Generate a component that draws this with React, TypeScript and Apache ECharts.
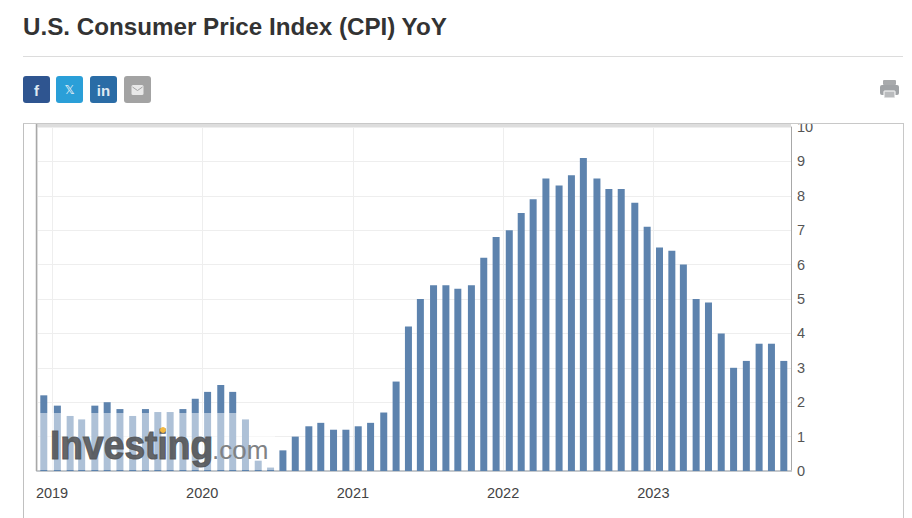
import React, { useEffect, useRef } from "react";
import * as echarts from "echarts";

const barDates = [
  "2018-12-12","2019-01-14","2019-02-14","2019-03-14","2019-04-15","2019-05-15","2019-06-15","2019-07-16","2019-08-16","2019-09-15","2019-10-15","2019-11-15","2019-12-15",
  "2020-01-14","2020-02-15","2020-03-15","2020-04-15","2020-05-16","2020-06-15","2020-07-15","2020-08-14","2020-09-16","2020-10-15","2020-11-15","2020-12-15",
  "2021-01-14","2021-02-13","2021-03-17","2021-04-16","2021-05-16","2021-06-14","2021-07-16","2021-08-15","2021-09-13","2021-10-16","2021-11-15","2021-12-15",
  "2022-01-16","2022-02-14","2022-03-15","2022-04-15","2022-05-17","2022-06-16","2022-07-15","2022-08-17","2022-09-15","2022-10-15","2022-11-17","2022-12-17",
  "2023-01-16","2023-02-15","2023-03-15","2023-04-15","2023-05-15","2023-06-15","2023-07-15","2023-08-15","2023-09-15","2023-10-15","2023-11-14",
];
const cpiYoY = [
  2.2,1.9,1.6,1.5,1.9,2.0,1.8,1.6,1.8,1.7,1.7,1.8,2.1,
  2.3,2.5,2.3,1.5,0.3,0.1,0.6,1.0,1.3,1.4,1.2,1.2,
  1.3,1.4,1.7,2.6,4.2,5.0,5.4,5.4,5.3,5.4,6.2,6.8,
  7.0,7.5,7.9,8.5,8.3,8.6,9.1,8.5,8.2,8.2,7.8,7.1,
  6.5,6.4,6.0,5.0,4.9,4.0,3.0,3.2,3.7,3.7,3.2,
];
const title = "U.S. Consumer Price Index (CPI) YoY";
const AXIS_MIN = "2018-12-04";
const AXIS_MAX = "2023-11-23";
const FONT = '"Liberation Sans", Arial, sans-serif';

export default function App() {
  const ref = useRef<HTMLDivElement>(null);
  useEffect(() => {
    document.body.style.margin = "0";
    const chart = echarts.init(ref.current!, null, { renderer: "svg" });
    const icon = (x: number, fill: string) => ({
      type: "rect", shape: { x, y: 76, width: 27, height: 27, r: 3 }, style: { fill }, z: 10,
    });
    const iconText = (x: number, text: string, fontSize: number, fontFamily = FONT) => ({
      type: "text", x, y: 90, z: 11,
      style: { text, fill: "#dfe9f3", font: `bold ${fontSize}px ${fontFamily}`, textAlign: "center", textVerticalAlign: "middle" },
    });
    chart.setOption({
      animation: false,
      backgroundColor: "#fff",
      grid: { left: 37, top: 127, width: 754, height: 344, containLabel: false },
      xAxis: {
        type: "time",
        min: AXIS_MIN,
        max: AXIS_MAX,
        minInterval: 365 * 86400000,
        axisLine: { show: true, lineStyle: { color: "#c4c8cc", width: 2 } },
        axisTick: { show: false },
        axisLabel: {
          color: "#444", fontFamily: FONT, fontSize: 14.5, margin: 14, hideOverlap: false,
          showMinLabel: false, showMaxLabel: false,
          formatter: (v: number) => (new Date(v).getMonth() === 0 && new Date(v).getDate() === 1 ? String(new Date(v).getFullYear()) : ""),
        },
        splitLine: { show: true, lineStyle: { color: "#eeeeee", width: 1 } },
      },
      yAxis: {
        type: "value",
        position: "right",
        min: 0,
        max: 10,
        interval: 1,
        axisLine: { show: true, lineStyle: { color: "#a8a8a8", width: 1 } },
        axisTick: { show: false },
        axisLabel: { color: "#555", fontFamily: FONT, fontSize: 14.5, margin: 6 },
        splitLine: { show: true, lineStyle: { color: "#eeeeee", width: 1 } },
      },
      series: [
        {
          type: "bar",
          barWidth: 7,
          itemStyle: { color: "#5d83ae" },
          data: barDates.map((d, i) => [d, cpiYoY[i]]),
        },
      ],
      graphic: [
        // hide the clipped part of the top label
        { type: "rect", shape: { x: 0, y: 105, width: 912, height: 18 }, style: { fill: "#fff" }, z: 8 },
        { type: "text", x: 23, y: 26.5, z: 10, style: { text: title, fill: "#333", font: `bold 24.2px ${FONT}`, textVerticalAlign: "middle" } },
        { type: "line", shape: { x1: 23, y1: 56.5, x2: 903, y2: 56.5 }, style: { stroke: "#dcdcdc", lineWidth: 1 }, z: 10 },
        icon(23, "#2f5590"), iconText(36.5, "f", 15),
        icon(56, "#2a9fd8"), iconText(69.5, "𝕏", 12, '"DejaVu Sans"'),
        icon(90, "#2a6ca6"), iconText(103.5, "in", 15),
        icon(124, "#a3a3a3"),
        { type: "rect", shape: { x: 131.5, y: 85, width: 12, height: 10, r: 1.5 }, style: { fill: "#e8e8e8" }, z: 11 },
        { type: "polyline", shape: { points: [[132.5, 87], [137.5, 90.5], [142.5, 87]] }, style: { stroke: "#a3a3a3", fill: "none", lineWidth: 1 }, z: 12 },
        // printer
        { type: "rect", shape: { x: 883, y: 80, width: 13, height: 5, r: 1 }, style: { fill: "#a8aaac" }, z: 10 },
        { type: "rect", shape: { x: 880, y: 85, width: 19, height: 10, r: 2 }, style: { fill: "#a0a3a6" }, z: 10 },
        { type: "rect", shape: { x: 884, y: 91, width: 11, height: 7, r: 0.5 }, style: { fill: "#b9bbbd", stroke: "#fff", lineWidth: 1 }, z: 11 },
        // frame
        { type: "line", shape: { x1: 23.5, y1: 123, x2: 23.5, y2: 518 }, style: { stroke: "#c0c0c0", lineWidth: 1 }, z: 9 },
        { type: "line", shape: { x1: 903.5, y1: 123, x2: 903.5, y2: 518 }, style: { stroke: "#c8c8c8", lineWidth: 1 }, z: 9 },
        { type: "line", shape: { x1: 23, y1: 123.5, x2: 904, y2: 123.5 }, style: { stroke: "#c8c8c8", lineWidth: 1 }, z: 9 },
        { type: "line", shape: { x1: 37, y1: 125.5, x2: 791, y2: 125.5 }, style: { stroke: "#dddddd", lineWidth: 3 }, z: 9 },
        { type: "line", shape: { x1: 36.5, y1: 124, x2: 36.5, y2: 471 }, style: { stroke: "#a8a8a8", lineWidth: 1.5 }, z: 9 },
        // watermark
        { type: "rect", shape: { x: 38, y: 413, width: 237, height: 57 }, style: { fill: "rgba(255,255,255,0.5)" }, z: 20 },
        { type: "text", x: 50, y: 465, scaleX: 0.93, z: 21, style: { text: "Investing", fill: "#55575a", stroke: "#55575a", lineWidth: 1.2, font: `bold 40px ${FONT}`, textVerticalAlign: "bottom", opacity: 0.92 } },
        { type: "circle", shape: { cx: 163, cy: 430, r: 3 }, style: { fill: "#f4b942" }, z: 22 },
        { type: "text", x: 212, y: 463, z: 21, style: { text: ".com", fill: "#808285", font: `26px ${FONT}`, textVerticalAlign: "bottom" } },
      ],
    });
    return () => chart.dispose();
  }, []);
  return <div ref={ref} style={{ width: 912, height: 518 }} />;
}
